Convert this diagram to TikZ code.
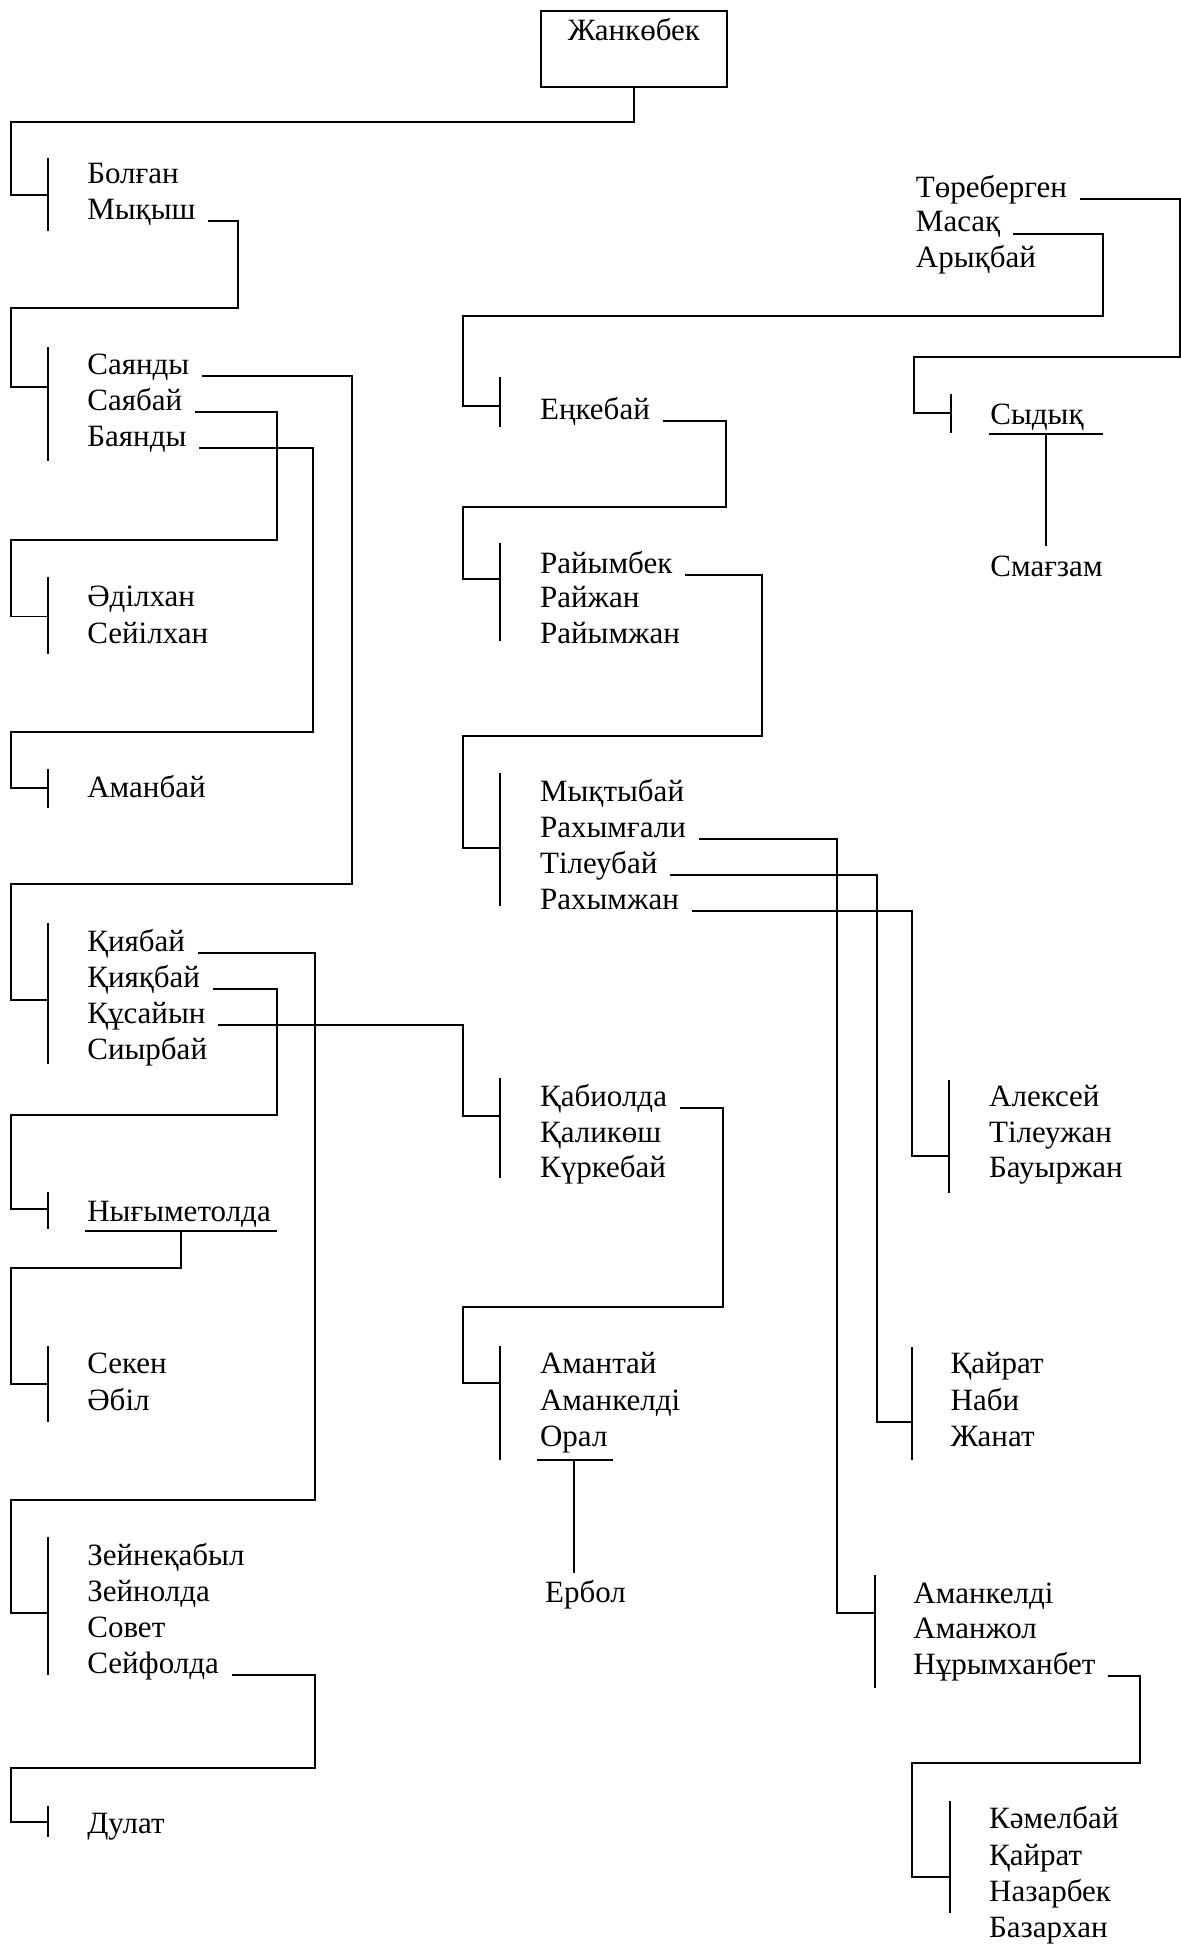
\documentclass[tikz,border=0pt]{standalone}
\usepackage{fontspec}
\setmainfont{Liberation Serif}
\tikzset{
  person/.style={anchor=base west, inner sep=0pt, font=\fontsize{12.5}{15}\selectfont},
  link/.style={line width=0.8pt},
  bar/.style={line width=0.8pt},
}

\begin{document}
\begin{tikzpicture}[x=0.5pt, y=-0.5pt]
    \useasboundingbox (0,0) rectangle (952,1568);

    % Root box
    \node[draw, line width=0.8pt, minimum width=75pt, minimum height=30.5pt, inner sep=0pt] (root) at (511,39.5) {};
    \node[font=\fontsize{12.5}{15}\selectfont, inner sep=0pt] (roottxt) at (511,24) {Жанкөбек};

    % Left column names
    \node[person] (bolgan) at (70,148) {Болған};
    \node[person] (mykysh) at (70,177) {Мықыш};

    \node[person] (sayandy) at (70,302) {Саянды};
    \node[person] (sayabai) at (70,331) {Саябай};
    \node[person] (bayandy) at (70,360) {Баянды};

    \node[person] (adilkhan) at (70,489) {Әділхан};
    \node[person] (seilkhan) at (70,519) {Сейілхан};

    \node[person] (amanbai) at (70,643) {Аманбай};

    \node[person] (kiyabai) at (70,767) {Қиябай};
    \node[person] (kiyakbai) at (70,796) {Қияқбай};
    \node[person] (kusaiyn) at (70,825) {Құсайын};
    \node[person] (siyrbai) at (70,854) {Сиырбай};

    \node[person] (nygymetolda) at (70,985) {Нығыметолда};
    \draw[link] (68.5,992) -- (223,992);
    \coordinate (nygu) at (146,992);

    \node[person] (seken) at (70,1107) {Секен};
    \node[person] (abil) at (70,1137) {Әбіл};

    \node[person] (zeinekabyl) at (70,1262) {Зейнеқабыл};
    \node[person] (zeinolda) at (70,1291) {Зейнолда};
    \node[person] (sovet) at (70,1320) {Совет};
    \node[person] (seifolda) at (70,1349) {Сейфолда};

    \node[person] (dulat) at (70,1478) {Дулат};

    % Middle column names
    \node[person] (enkebai) at (435,338) {Еңкебай};

    \node[person] (raiymbek) at (435,462) {Райымбек};
    \node[person] (raizhan) at (435,490) {Райжан};
    \node[person] (raiymzhan) at (435,519) {Райымжан};

    \node[person] (myktybai) at (435,646) {Мықтыбай};
    \node[person] (rakhymgali) at (435,675) {Рахымғали};
    \node[person] (tileubai) at (435,704) {Тілеубай};
    \node[person] (rakhymzhan) at (435,733) {Рахымжан};

    \node[person] (kabiolda) at (435,892) {Қабиолда};
    \node[person] (kalikosh) at (435,921) {Қаликөш};
    \node[person] (kurkebai) at (435,949) {Күркебай};

    \node[person] (amantai) at (435,1107) {Амантай};
    \node[person] (amankeldi) at (435,1137) {Аманкелді};
    \node[person] (oral) at (435,1166) {Орал};
    \draw[link] (433,1177) -- (494,1177);
    \coordinate (oralu) at (463,1177);

    \node[person] (erbol) at (439,1292) {Ербол};

    % Right column names
    \node[person] (toreb) at (738,159) {Төреберген};
    \node[person] (masak) at (738,187) {Масақ};
    \node[person] (arykbai) at (738,216) {Арықбай};

    \node[person] (sydyk) at (798,342) {Сыдық};
    \draw[link] (797,350) -- (889,350);
    \coordinate (sydyku) at (843,350);

    \node[person] (smagzam) at (798,465) {Смағзам};

    \node[person] (aleksei) at (797,892) {Алексей};
    \node[person] (tileuzhan) at (797,921) {Тілеужан};
    \node[person] (bauyrzhan) at (797,949) {Бауыржан};

    \node[person] (kairat) at (766,1107) {Қайрат};
    \node[person] (nabi) at (766,1137) {Наби};
    \node[person] (zhanat) at (766,1166) {Жанат};

    \node[person] (amankeldib) at (736,1293) {Аманкелді};
    \node[person] (amanzhol) at (736,1321) {Аманжол};
    \node[person] (nurymkhanbet) at (736,1350) {Нұрымханбет};

    \node[person] (kamelbai) at (797,1474) {Кәмелбай};
    \node[person] (kairatb) at (797,1504) {Қайрат};
    \node[person] (nazarbek) at (797,1533) {Назарбек};
    \node[person] (bazarkhan) at (797,1562) {Базархан};

    % Bars in front of each group of brothers
    \draw[bar] (38.5,127) -- (38.5,186);   \coordinate (g1) at (38.5,157);
    \draw[bar] (38.5,280) -- (38.5,372);   \coordinate (g2) at (38.5,312);
    \draw[bar] (38.5,465) -- (38.5,527);   \coordinate (g3) at (38.5,497);
    \draw[bar] (38.5,620) -- (38.5,651);   \coordinate (g4) at (38.5,635);
    \draw[bar] (38.5,744) -- (38.5,858);   \coordinate (g5) at (38.5,806);
    \draw[bar] (38.5,961) -- (38.5,991);   \coordinate (g6) at (38.5,975);
    \draw[bar] (38.5,1085) -- (38.5,1146); \coordinate (g7) at (38.5,1116);
    \draw[bar] (38.5,1239) -- (38.5,1350); \coordinate (g8) at (38.5,1300);
    \draw[bar] (38.5,1456) -- (38.5,1481); \coordinate (g9) at (38.5,1469);

    \draw[bar] (403,304) -- (403,344);     \coordinate (m1) at (403,327);
    \draw[bar] (403,438) -- (403,517);     \coordinate (m2) at (403,467);
    \draw[bar] (403,623) -- (403,730);     \coordinate (m3) at (403,684);
    \draw[bar] (403,869) -- (403,950);     \coordinate (m4) at (403,900);
    \draw[bar] (403,1085) -- (403,1177);   \coordinate (m5) at (403,1115);

    \draw[bar] (767,318) -- (767,349);     \coordinate (r1) at (767,333);
    \draw[bar] (765,871) -- (765,962);     \coordinate (r2) at (765,932);
    \draw[bar] (735,1086) -- (735,1177);   \coordinate (r3) at (735,1146);
    \draw[bar] (705,1270) -- (705,1361);   \coordinate (r4) at (705,1300);
    \draw[bar] (766,1452) -- (766,1542);   \coordinate (r5) at (766,1513);

    % Links from a father to his sons
    \draw[link] (root.south) |- (8.5,98) |- (g1);
    \draw[link] ([xshift=5pt, yshift=-0.75pt]mykysh.base east) -| (192,248) -- (8.5,248) |- (g2);
    \draw[link] ([xshift=5pt, yshift=-0.75pt]sayandy.base east) -| (284,713) -- (8.5,713) |- (g5);
    \draw[link] ([xshift=5pt, yshift=-0.75pt]sayabai.base east) -| (223,435) -- (8.5,435) |- (g3);
    \draw[link] ([xshift=5pt, yshift=-0.75pt]bayandy.base east) -| (252,590) -- (8.5,590) |- (g4);
    \draw[link] ([xshift=5pt, yshift=-0.75pt]kiyabai.base east) -| (254,1209) -- (8.5,1209) |- (g8);
    \draw[link] ([xshift=5pt, yshift=-0.75pt]kiyakbai.base east) -| (223,899) -- (8.5,899) |- (g6);
    \draw[link] ([xshift=5pt, yshift=-0.75pt]kusaiyn.base east) -| (373,900) -- (m4);
    \draw[link] (nygu) |- (8.5,1022) |- (g7);
    \draw[link] ([xshift=5pt, yshift=-0.75pt]seifolda.base east) -| (254,1425) -- (8.5,1425) |- (g9);

    \draw[link] ([xshift=5pt, yshift=-0.75pt]masak.base east) -| (889,255) -- (373,255) |- (m1);
    \draw[link] ([xshift=5pt, yshift=-0.75pt]toreb.base east) -| (951,288) -- (737,288) |- (r1);
    \draw[link] ([xshift=5pt, yshift=-0.75pt]enkebai.base east) -| (585,409) -- (373,409) |- (m2);
    \draw[link] ([xshift=5pt, yshift=-0.75pt]raiymbek.base east) -| (614,593) -- (373,593) |- (m3);
    \draw[link] ([xshift=5pt, yshift=-0.75pt]kabiolda.base east) -| (583,1054) -- (373,1054) |- (m5);
    \draw[link] (sydyku) -- ([yshift=4pt]sydyku |- smagzam.north);
    \draw[link] (oralu) -- ([yshift=3pt]oralu |- erbol.north);

    \draw[link] ([xshift=5pt, yshift=-0.75pt]rakhymgali.base east) -| (675,1300) -- (r4);
    \draw[link] ([xshift=5pt, yshift=-0.75pt]tileubai.base east) -| (707,1146) -- (r3);
    \draw[link] ([xshift=5pt, yshift=-0.75pt]rakhymzhan.base east) -| (735,932) -- (r2);
    \draw[link] ([xshift=5pt, yshift=-0.75pt]nurymkhanbet.base east) -| (919,1421) -- (735,1421) |- (r5);
\end{tikzpicture}
\end{document}
